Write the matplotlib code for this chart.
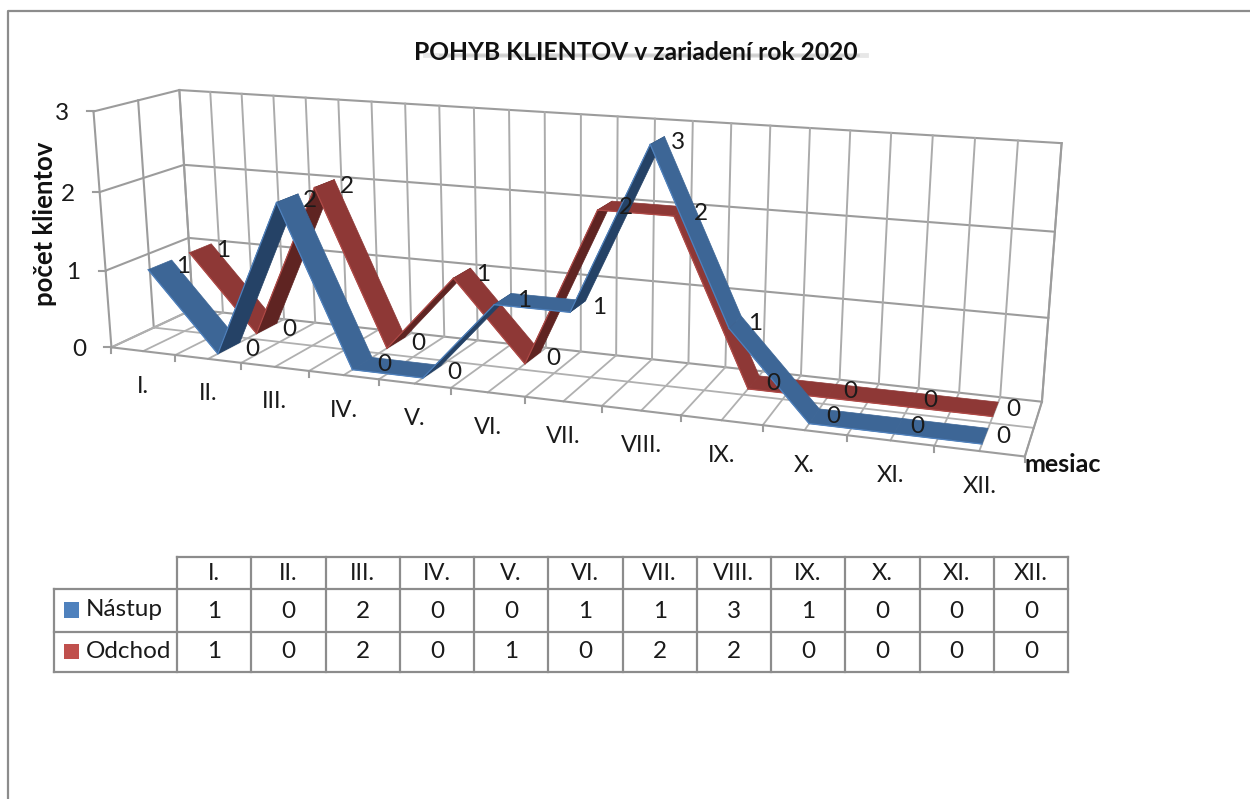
import numpy as np
import matplotlib
matplotlib.use('Agg')
import matplotlib.pyplot as plt
from matplotlib.patches import Polygon, Rectangle

months = ['I.', 'II.', 'III.', 'IV.', 'V.', 'VI.', 'VII.', 'VIII.', 'IX.', 'X.', 'XI.', 'XII.']
nastup = [1, 0, 2, 0, 0, 1, 1, 3, 1, 0, 0, 0]
odchod = [1, 0, 2, 0, 1, 0, 2, 2, 0, 0, 0, 0]
value_ticks = [0, 1, 2, 3]

GRID = '#9c9c9c'
TEXT = '#1a1a1a'
plt.rcParams['font.family'] = ['Lato', 'DejaVu Sans']

# box corners in the picture: (month, depth, value) -> (px, py), used to fit the camera
anchors = [
    (0, 0, 0, 112, 347), (0, 0, 1, 105, 270), (0, 0, 2, 100, 192), (0, 0, 3, 93, 112),
    (0, 1, 1, 188, 238), (0, 1, 2, 184, 165), (0, 1, 3, 179, 90),
    (12, 1, 0, 1042, 402), (12, 1, 1, 1048, 318), (12, 1, 2, 1055, 231), (12, 1, 3, 1062, 143),
    (12, 0, 0, 1025, 457), (3, 0, 0, 309, 371), (6, 0, 0, 526, 397), (9, 0, 0, 762, 425),
    (3, 1, 3, 373, 102), (6, 1, 3, 581, 114), (9, 1, 3, 809, 128),
]


def fit_camera(points):
    rows = []
    for x, y, z, px, py in points:
        rows.append([x, y, z, 1, 0, 0, 0, 0, -px * x, -px * y, -px * z, -px])
        rows.append([0, 0, 0, 0, x, y, z, 1, -py * x, -py * y, -py * z, -py])
    return np.linalg.svd(np.array(rows, dtype=float))[2][-1].reshape(3, 4)


cam = fit_camera(anchors)


def proj(x, y, z):
    u = cam @ np.array([x, y, z, 1.0])
    return u[0] / u[2], u[1] / u[2]


fig = plt.figure(figsize=(12.5, 7.99), dpi=100)
ax = fig.add_axes([0, 0, 1, 1])
ax.set_xlim(0, 1250)
ax.set_ylim(799, 0)
ax.axis('off')


def seg(p, q, color=GRID, lw=1.5, z=1):
    ax.plot([p[0], q[0]], [p[1], q[1]], color=color, lw=lw, zorder=z, solid_capstyle='projecting')


# outer frame
ax.plot([8, 8, 1250], [799, 11, 11], color='#8c8c8c', lw=1.6, zorder=1)

# walls and floor
for v in value_ticks:
    seg(proj(0, 1, v), proj(12, 1, v))
    seg(proj(0, 0, v), proj(0, 1, v))
    p = proj(0, 0, v)
    seg((p[0] - 7, p[1]), p)
    ax.text(p[0] - 32, p[1] + 2, str(v), fontsize=17.5, color=TEXT, ha='center', va='center')
seg(proj(0, 0, 0), proj(0, 0, 3))
seg(proj(0, 0.5, 0), proj(0, 0.5, 3))
for i in range(25):
    m = i / 2
    seg(proj(m, 1, 0), proj(m, 1, 3), color='#ababab', lw=1.4)
    seg(proj(m, 0, 0), proj(m, 1, 0), color='#b0b0b0', lw=1.3)
seg(proj(0, 1, 0), proj(0, 1, 3))
seg(proj(12, 1, 0), proj(12, 1, 3))
seg(proj(0, 0.5, 0), proj(12, 0.5, 0), color='#b0b0b0', lw=1.3)
seg(proj(0, 0, 0), proj(12, 0, 0))
seg(proj(12, 0, 0), proj(12, 1, 0))
for i in range(13):
    p = proj(i, 0, 0)
    seg(p, (p[0], p[1] + 6))

for i, name in enumerate(months):
    p = proj(i + 0.5, 0, 0)
    ax.text(p[0], p[1] + 35, name, fontsize=17, color=TEXT, ha='center', va='center')


def ribbon(values, y0, y1, y_label, face, dark, edge, z):
    for i in range(len(values) - 1):
        a, b = values[i], values[i + 1]
        x0, x1 = i + 0.5, i + 1.5
        quad = [proj(x0, y0, a), proj(x0, y1, a), proj(x1, y1, b), proj(x1, y0, b)]
        col = dark if b > a else face
        ax.add_patch(Polygon(quad, closed=True, facecolor=col, edgecolor=col, lw=0.5,
                             joinstyle='round', zorder=z + i * 0.01))
        seg(quad[0], quad[3], color=edge, lw=0.9, z=z + i * 0.01 + 0.005)
    for i, v in enumerate(values):
        p = proj(i + 0.5, y_label, v)
        ax.text(p[0] + 16, p[1] + 5, str(v), fontsize=17.5, color=TEXT, ha='center', va='center', zorder=10)


ribbon(odchod, 0.62, 0.90, 0.85, '#8e3836', '#5f2422', '#b04a47', 3)
ribbon(nastup, 0.12, 0.40, 0.35, '#3d6696', '#254266', '#4f81bd', 5)

# soft shadow streak behind the title
ax.plot([425, 866], [55, 55], color='#bdbdbd', lw=3.5, alpha=0.35, zorder=1.5)
ax.plot([440, 858], [55, 55], color='#9e9e9e', lw=1.8, alpha=0.35, zorder=1.5)
ax.text(636, 52, 'POHYB KLIENTOV v zariadení rok 2020', fontsize=17.7, fontweight='bold',
        color='#111111', ha='center', va='center', zorder=2)
ax.text(45, 224, 'počet klientov', fontsize=18.5, fontweight='bold', color='#111111',
        rotation=90, ha='center', va='center')
ax.text(1063, 465, 'mesiac', fontsize=18, fontweight='bold', color='#111111', ha='center', va='center')

# data table
left = 54
first = 177
right = 1068
col_w = (right - first) / len(months)
rows_y = [557, 589, 632, 672]
tbl = '#8c8c8c'
ax.plot([first, right], [rows_y[0], rows_y[0]], color=tbl, lw=1.6, zorder=2)
for y in rows_y[1:]:
    ax.plot([left, right], [y, y], color=tbl, lw=1.6, zorder=2)
ax.plot([left, left], [rows_y[1], rows_y[3]], color=tbl, lw=1.6, zorder=2)
for i in range(len(months) + 1):
    xc = first + i * col_w
    ax.plot([xc, xc], [rows_y[0], rows_y[3]], color=tbl, lw=1.6, zorder=2)
for i, name in enumerate(months):
    xc = first + (i + 0.5) * col_w
    ax.text(xc, 573, name, fontsize=17, color=TEXT, ha='center', va='center')
    ax.text(xc, 612, str(nastup[i]), fontsize=17.5, color=TEXT, ha='center', va='center')
    ax.text(xc, 652, str(odchod[i]), fontsize=17.5, color=TEXT, ha='center', va='center')
ax.add_patch(Rectangle((64, 602), 15, 16, facecolor='#4f81bd', edgecolor='none'))
ax.add_patch(Rectangle((64, 644), 15, 15, facecolor='#c0504d', edgecolor='none'))
ax.text(86, 610, 'Nástup', fontsize=17.5, color=TEXT, ha='left', va='center')
ax.text(86, 652, 'Odchod', fontsize=17.5, color=TEXT, ha='left', va='center')

fig.savefig('out.png', dpi=100)
